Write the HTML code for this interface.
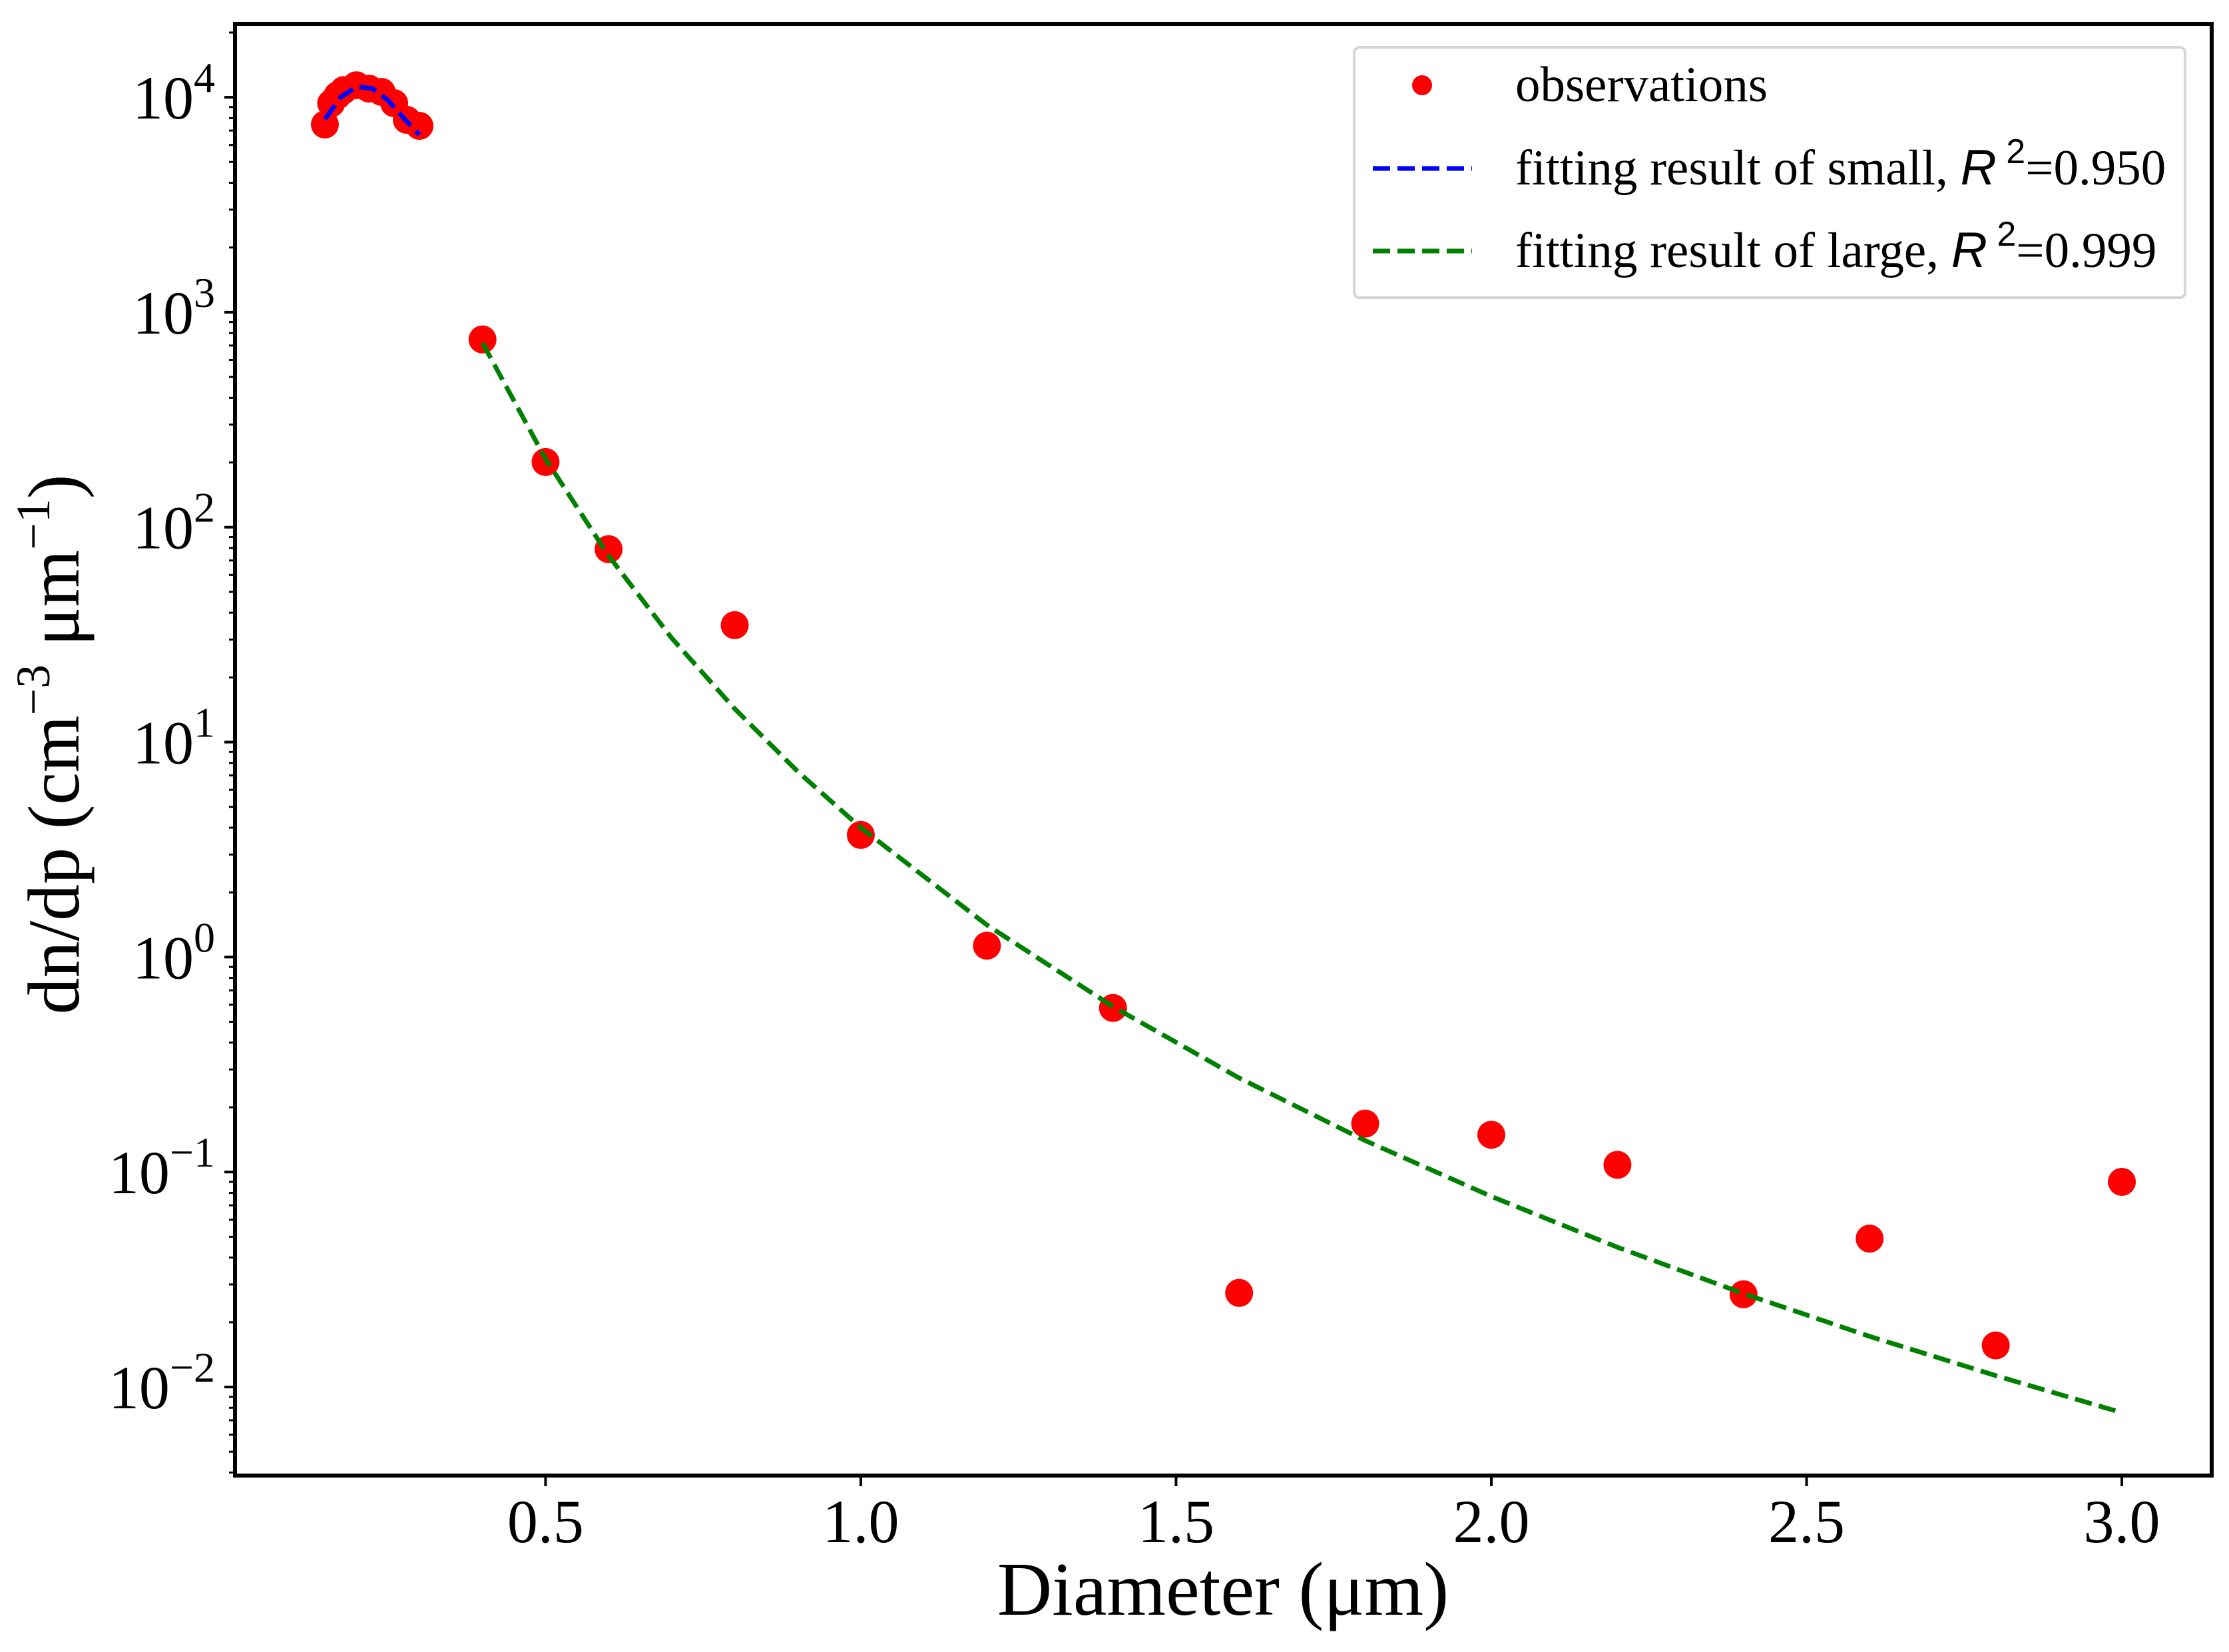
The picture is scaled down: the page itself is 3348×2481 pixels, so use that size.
<!DOCTYPE html>
<html><head><meta charset="utf-8"><style>
html,body{margin:0;padding:0;background:#fff;}
svg{display:block;font-family:"Liberation Serif",serif;}
</style></head><body>
<svg id="chart" width="3348" height="2481" viewBox="0 0 3348 2481" xmlns="http://www.w3.org/2000/svg">
<g id="plot"></g>
<g id="axes"></g>
<g id="legend">
  <rect x="2034" y="71" width="1248" height="376" rx="8" fill="#fff" stroke="#d5d5d5" stroke-width="4"/>
  <circle cx="2136" cy="128" r="15" fill="#ff0000"/>
  <text x="2276" y="152" font-size="75">observations</text>
  <line x1="2062" y1="253" x2="2211" y2="253" stroke="#0000ff" stroke-width="7" stroke-dasharray="26,11"/>
  <text x="2276" y="277" font-size="75">fitting result of small, <tspan font-family="Liberation Sans,sans-serif" font-style="italic">R</tspan><tspan font-family="Liberation Sans,sans-serif" font-size="52" dy="-32"> 2</tspan><tspan dy="32">=0.950</tspan></text>
  <line x1="2062" y1="377" x2="2211" y2="377" stroke="#008000" stroke-width="7" stroke-dasharray="26,11"/>
  <text x="2276" y="401" font-size="75">fitting result of large, <tspan font-family="Liberation Sans,sans-serif" font-style="italic">R</tspan><tspan font-family="Liberation Sans,sans-serif" font-size="52" dy="-32"> 2</tspan><tspan dy="32">=0.999</tspan></text>
</g>
<text x="1837" y="2425" font-size="114" text-anchor="middle">Diameter (μm)</text>
<text transform="translate(118,1118) rotate(-90)" font-size="110" text-anchor="middle">dn/dp (cm<tspan font-size="72" dy="-44">−3</tspan><tspan dy="44"> μm</tspan><tspan font-size="72" dy="-44">−1</tspan><tspan dy="44">)</tspan></text>
</svg>
<script>
const obsX = [0.15,0.16,0.17,0.18,0.20,0.22,0.24,0.26,0.28,0.30,0.4,0.5,0.6,0.8,1.0,1.2,1.4,1.6,1.8,2.0,2.2,2.4,2.6,2.8,3.0];
const obsY = [7470,9380,10200,10800,11370,10970,10590,9380,7850,7360,747,201,79,35,3.7,1.13,0.58,0.0274,0.168,0.149,0.108,0.027,0.049,0.0156,0.090];
const smallX = [0.15,0.175,0.2,0.225,0.25,0.275,0.3];
const smallY = [7900,10000,11200,11000,9700,8000,6700];
const largeX = [0.4,0.5,0.6,0.7,0.8,0.9,1.0,1.2,1.4,1.6,1.8,2.0,2.2,2.4,2.6,2.8,3.0];
const largeY = [720,208,73.6,30.5,14.3,7.3,4,1.41,0.588,0.274,0.140,0.077,0.0447,0.0272,0.0172,0.0113,0.0076];
const xTicks = [0.5,1.0,1.5,2.0,2.5,3.0];
const xTickLabels = ["0.5","1.0","1.5","2.0","2.5","3.0"];
const yDecades = [-2,-1,0,1,2,3,4];

const L=353,R=3322,T=36,B=2216;
const xMin=0.0075,xMax=3.1425,yMinLog=-2.412,yMaxLog=4.341;
const sx=v=>L+(v-xMin)/(xMax-xMin)*(R-L);
const sy=v=>B-(Math.log10(v)-yMinLog)/(yMaxLog-yMinLog)*(B-T);
const NS="http://www.w3.org/2000/svg";
function mk(tag,attrs,parent){const e=document.createElementNS(NS,tag);for(const k in attrs)e.setAttribute(k,attrs[k]);parent.appendChild(e);return e;}
const plot=document.getElementById('plot'), axes=document.getElementById('axes');

let d='';smallX.forEach((x,i)=>{d+=(i?'L':'M')+sx(x).toFixed(1)+' '+sy(smallY[i]).toFixed(1);});
let d2='';largeX.forEach((x,i)=>{d2+=(i?'L':'M')+sx(x).toFixed(1)+' '+sy(largeY[i]).toFixed(1);});
obsX.forEach((x,i)=>{
  const c=mk('circle',{cx:sx(x),cy:sy(obsY[i]),r:21,fill:'#ff0000'},plot);
  
  
});
const p1=mk('path',{d:d,fill:'none',stroke:'#0000ff','stroke-width':7,'stroke-dasharray':'26,11'},plot);


const p2=mk('path',{d:d2,fill:'none',stroke:'#008000','stroke-width':7,'stroke-dasharray':'26,11'},plot);



const fr=mk('rect',{x:L,y:T,width:R-L,height:B-T,fill:'none',stroke:'#000','stroke-width':6},axes);



xTicks.forEach((v,i)=>{
  const t=mk('line',{x1:sx(v),y1:B,x2:sx(v),y2:B+16,stroke:'#000','stroke-width':4},axes);
  
  
  const tx=mk('text',{x:sx(v),y:B+100,'font-size':92,'text-anchor':'middle'},axes);
  tx.textContent=xTickLabels[i];
  
  
});
for(let e=-3;e<=4;e++){
  for(let m=1;m<10;m++){
    const v=m*Math.pow(10,e);const lv=Math.log10(v);
    if(lv<yMinLog||lv>yMaxLog)continue;
    const y=sy(v);
    const t=mk('line',{x1:L-(m===1?16:9),y1:y,x2:L,y2:y,stroke:'#000','stroke-width':m===1?4:3},axes);
    
    
  }
}
yDecades.forEach(e=>{
  const y=sy(Math.pow(10,e));
  const tx=mk('text',{x:L-30,y:y+32,'font-size':92,'text-anchor':'end'},axes);
  
  
  const a=document.createElementNS(NS,'tspan');a.textContent='10';tx.appendChild(a);
  const b=document.createElementNS(NS,'tspan');b.setAttribute('font-size','64');b.setAttribute('dy','-40');
  b.textContent=e<0?'−'+(-e):String(e);tx.appendChild(b);
});
</script>
</body></html>
